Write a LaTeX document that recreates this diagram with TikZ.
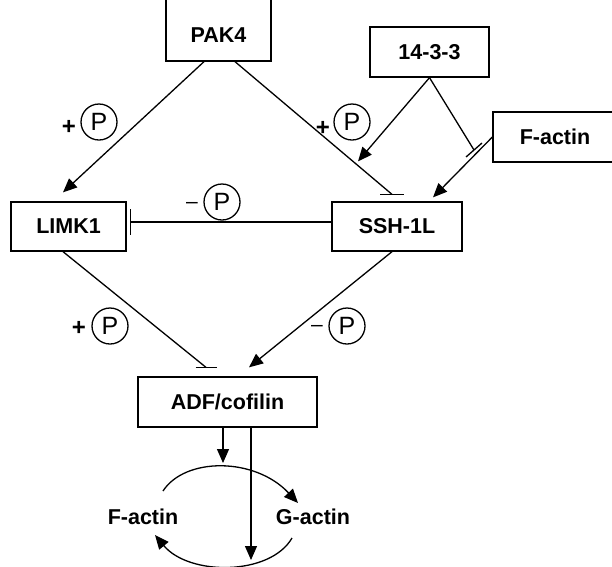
\documentclass[tikz,border=0pt]{standalone}
\usepackage{fontspec}
\setmainfont{Liberation Sans}
\usetikzlibrary{arrows.meta}
\tikzset{
  box/.style={draw, line width=1.3pt, rectangle, inner sep=0pt, font=\bfseries\fontsize{21.5}{24}\selectfont},
  lbl/.style={inner sep=0pt, font=\bfseries\fontsize{21.5}{24}\selectfont},
  pcirc/.style={draw, circle, line width=1.3pt, minimum size=36pt, inner sep=0pt, font=\fontsize{25}{28}\selectfont},
  plus/.style={inner sep=0pt, font=\bfseries\fontsize{24}{26}\selectfont},
  minus/.style={inner sep=0pt, font=\fontsize{21}{24}\selectfont},
  act/.style={line width=1.3pt, -{Triangle[length=14pt,width=12pt]}},
  inh/.style={line width=1.3pt},
}
\begin{document}
\begin{tikzpicture}[x=1pt,y=-1pt]
\useasboundingbox (0,0) rectangle (612,566);
\clip (0,0) rectangle (612,566);
% boxes
\node[box, minimum width=105pt, minimum height=70pt, label={[lbl, yshift=-9pt]center:PAK4}] (pak) at (218.5,26) {};
\node[box, minimum width=119pt, minimum height=50pt] (t) at (429.5,52) {14-3-3};
\node[box, minimum width=124pt, minimum height=50pt] (fact) at (555,137) {F-actin};
\node[box, minimum width=115pt, minimum height=49pt] (limk) at (68.5,226.5) {LIMK1};
\node[box, minimum width=130pt, minimum height=49pt] (ssh) at (397,226.5) {SSH-1L};
\node[box, minimum width=179pt, minimum height=50pt] (adf) at (227.5,402) {ADF/cofilin};
\node[lbl] (fa2) at (143,517) {F-actin};
\node[lbl] (ga) at (313,517) {G-actin};
% P labels
\node[plus] (s1) at (69,127) {+};
\node[pcirc] (p1) at (99,122) {P};
\node[plus] (s2) at (323,128) {+};
\node[pcirc] (p2) at (352,122) {P};
\node[minus] (s3) at (192,205) {–};
\node[pcirc] (p3) at (222,202) {P};
\node[plus] (s4) at (79,328) {+};
\node[pcirc] (p4) at (110,326) {P};
\node[minus] (s5) at (317,328) {–};
\node[pcirc] (p5) at (347,326) {P};
% PAK4 connectors
\draw[act] ([xshift=-14.5pt]pak.south) -- ([xshift=-5.5pt,yshift=9pt]limk.north);
\coordinate (b1) at ([xshift=-5pt,yshift=7pt]ssh.north);
\draw[inh] ([xshift=16.5pt]pak.south) -- (b1);
\draw[inh] ([xshift=-12pt]b1) -- ([xshift=12pt]b1);
% 14-3-3 connectors
\draw[act] (t.south) -- ([xshift=-39pt,yshift=40pt]ssh.north);
\draw[act] (fact.west) -- ([xshift=36pt,yshift=4pt]ssh.north);
\coordinate (b2) at (474,150);
\draw[inh] (t.south) -- (b2);
\draw[inh] ([xshift=-8pt,yshift=-7pt]b2) -- ([xshift=8pt,yshift=7pt]b2);
% SSH-1L -| LIMK1
\coordinate (b3) at ([xshift=3.5pt,yshift=4.5pt]limk.east);
\draw[inh] ([yshift=4.5pt]ssh.west) -- (b3);
\draw[inh] ([yshift=13pt]b3) -- ([yshift=-13pt]b3);
% to ADF/cofilin
\coordinate (b4) at ([xshift=-21.5pt,yshift=9pt]adf.north);
\draw[inh] ([xshift=-5.5pt]limk.south) -- (b4);
\draw[inh] ([xshift=-10.5pt]b4) -- ([xshift=10.5pt]b4);
\draw[act] ([xshift=-5pt]ssh.south) -- ([xshift=21.5pt,yshift=9pt]adf.north);
% ADF/cofilin arrows
\coordinate (e1) at (223,463);
\coordinate (e2) at (251,560);
\draw[act] ([xshift=-4.5pt]adf.south) -- (e1);
\draw[act] ([xshift=23.5pt]adf.south) -- (e2);
% cycle arcs
\coordinate (u1) at (163,491);
\coordinate (u2) at (298,503);
\coordinate (l1) at (292,538);
\coordinate (l2) at (155,535);
\draw[act] (u1) .. controls (185,457) and (255,457) .. (u2);
\draw[act] (l1) .. controls (270,576) and (189,576) .. (l2);
\end{tikzpicture}
\end{document}
